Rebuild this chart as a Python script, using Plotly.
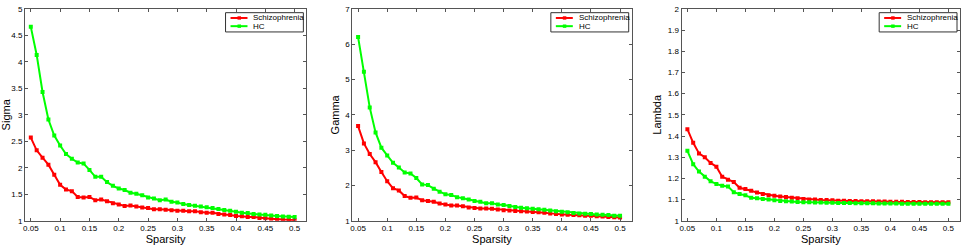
import plotly.graph_objects as go

sparsity = [round(0.05 + 0.01 * i, 2) for i in range(46)]

sigma_scz = [2.57, 2.33, 2.19, 2.06, 1.87, 1.68, 1.59, 1.56, 1.45, 1.44,
             1.45, 1.39, 1.40, 1.37, 1.33, 1.31, 1.28, 1.29, 1.27, 1.25,
             1.24, 1.22, 1.22, 1.21, 1.20, 1.19, 1.19, 1.18, 1.18, 1.16,
             1.15, 1.15, 1.13, 1.12, 1.11, 1.09, 1.085, 1.07, 1.07, 1.055,
             1.05, 1.04, 1.03, 1.025, 1.02, 1.01]
sigma_hc = [4.66, 4.13, 3.43, 2.91, 2.61, 2.42, 2.26, 2.17, 2.10, 2.08,
            1.96, 1.83, 1.83, 1.73, 1.66, 1.61, 1.58, 1.53, 1.51, 1.48,
            1.44, 1.42, 1.39, 1.40, 1.36, 1.345, 1.315, 1.30, 1.285, 1.27,
            1.255, 1.24, 1.225, 1.205, 1.19, 1.17, 1.15, 1.145, 1.13, 1.12,
            1.115, 1.10, 1.09, 1.08, 1.075, 1.07]

gamma_scz = [3.68, 3.19, 2.89, 2.66, 2.38, 2.12, 1.92, 1.86, 1.70, 1.65,
             1.66, 1.58, 1.56, 1.54, 1.49, 1.46, 1.43, 1.43, 1.41, 1.38,
             1.36, 1.35, 1.35, 1.34, 1.32, 1.30, 1.29, 1.28, 1.27, 1.26,
             1.25, 1.245, 1.23, 1.21, 1.19, 1.18, 1.17, 1.165, 1.155, 1.145,
             1.14, 1.13, 1.12, 1.11, 1.10, 1.09]
gamma_hc = [6.2, 5.22, 4.21, 3.50, 3.07, 2.85, 2.64, 2.51, 2.37, 2.34,
            2.21, 2.03, 2.01, 1.91, 1.82, 1.75, 1.73, 1.67, 1.64, 1.60,
            1.56, 1.54, 1.50, 1.50, 1.46, 1.45, 1.42, 1.39, 1.37, 1.355,
            1.34, 1.33, 1.31, 1.29, 1.27, 1.255, 1.24, 1.22, 1.21, 1.20,
            1.19, 1.18, 1.17, 1.165, 1.145, 1.14]

lambda_scz = [1.432, 1.368, 1.318, 1.300, 1.273, 1.255, 1.208, 1.194, 1.183, 1.156,
              1.150, 1.142, 1.133, 1.127, 1.121, 1.118, 1.115, 1.112, 1.109, 1.106,
              1.103, 1.100, 1.100, 1.098, 1.098, 1.097, 1.095, 1.095, 1.094, 1.094,
              1.092, 1.092, 1.092, 1.091, 1.091, 1.090, 1.090, 1.090, 1.089, 1.089,
              1.089, 1.088, 1.088, 1.088, 1.087, 1.087]
lambda_hc = [1.330, 1.267, 1.232, 1.208, 1.186, 1.174, 1.165, 1.162, 1.135, 1.126,
             1.120, 1.109, 1.106, 1.103, 1.100, 1.097, 1.094, 1.092, 1.091, 1.089,
             1.088, 1.087, 1.086, 1.086, 1.085, 1.085, 1.084, 1.084, 1.084, 1.083,
             1.083, 1.083, 1.083, 1.082, 1.082, 1.082, 1.082, 1.081, 1.081, 1.081,
             1.081, 1.080, 1.080, 1.080, 1.080, 1.080]

panels = [
    ("Sigma", sigma_scz, sigma_hc, [1, 5], 0.5),
    ("Gamma", gamma_scz, gamma_hc, [1, 7], 1),
    ("Lambda", lambda_scz, lambda_hc, [1, 2], 0.1),
]
x_title = "Sparsity"
series_names = ["Schizophrenia", "HC"]
colors = ["#ff0000", "#00ff00"]

W, H = 964, 247
x_px = [(23, 305), (351, 631), (681, 960)]
x_domains = [(a / W, b / W) for a, b in x_px]
y_domain = (1 - 225 / H, 1 - 5 / H)

fig = go.Figure()
shapes, annotations = [], []
layout = dict(
    width=W, height=H,
    margin=dict(l=0, r=0, t=0, b=0),
    paper_bgcolor="white", plot_bgcolor="white",
    font=dict(family="Arial, Liberation Sans, sans-serif", color="#000000"),
    showlegend=False,
)

for i, (ylabel, scz, hc, yr, dy) in enumerate(panels):
    n = "" if i == 0 else str(i + 1)
    for name, vals, col in zip(series_names, [scz, hc], colors):
        fig.add_trace(go.Scatter(
            x=sparsity, y=vals, name=name, mode="lines+markers",
            line=dict(color=col, width=2),
            marker=dict(symbol="square", size=4, color=col),
            xaxis="x" + n, yaxis="y" + n,
        ))
    axis_common = dict(
        showgrid=False, zeroline=False, showline=True, mirror="ticks",
        linecolor="#555555", linewidth=1, ticks="inside", ticklen=3,
        tickcolor="#555555", tickfont=dict(size=8),
    )
    layout["xaxis" + n] = dict(
        domain=list(x_domains[i]), range=[0.04, 0.52], anchor="y" + n,
        tick0=0.05, dtick=0.05,
        title=dict(text=x_title, font=dict(size=11), standoff=1),
        **axis_common,
    )
    layout["yaxis" + n] = dict(
        domain=list(y_domain), range=yr, anchor="x" + n,
        tick0=yr[0], dtick=dy,
        title=dict(text=ylabel, font=dict(size=11), standoff=3),
        **axis_common,
    )

    # legend box (MATLAB-style, compact)
    right = x_px[i][1] - 3
    left = right - 78
    top, bottom = 9, 29
    shapes.append(dict(type="rect", xref="paper", yref="paper",
                       x0=left / W, x1=right / W, y0=1 - bottom / H, y1=1 - top / H,
                       line=dict(color="#333333", width=1), fillcolor="white", layer="above"))
    for k, (name, col) in enumerate(zip(series_names, colors)):
        yy = 1 - (14.5 + 8.5 * k) / H
        shapes.append(dict(type="line", xref="paper", yref="paper",
                           x0=(left + 5) / W, x1=(left + 22) / W, y0=yy, y1=yy,
                           line=dict(color=col, width=2), layer="above"))
        shapes.append(dict(type="rect", xref="paper", yref="paper",
                           x0=(left + 12) / W, x1=(left + 15.5) / W,
                           y0=yy - 1.75 / H, y1=yy + 1.75 / H,
                           line=dict(width=0), fillcolor=col, layer="above"))
        annotations.append(dict(text=name, xref="paper", yref="paper",
                                x=(left + 26) / W, y=yy, xanchor="left", yanchor="middle",
                                showarrow=False, font=dict(size=8, color="#000000")))

layout["shapes"] = shapes
layout["annotations"] = annotations
fig.update_layout(**layout)
fig.write_html("out.html",
               config={"displayModeBar": False},
               post_script="document.body.style.margin='0';document.body.style.overflow='hidden';")
